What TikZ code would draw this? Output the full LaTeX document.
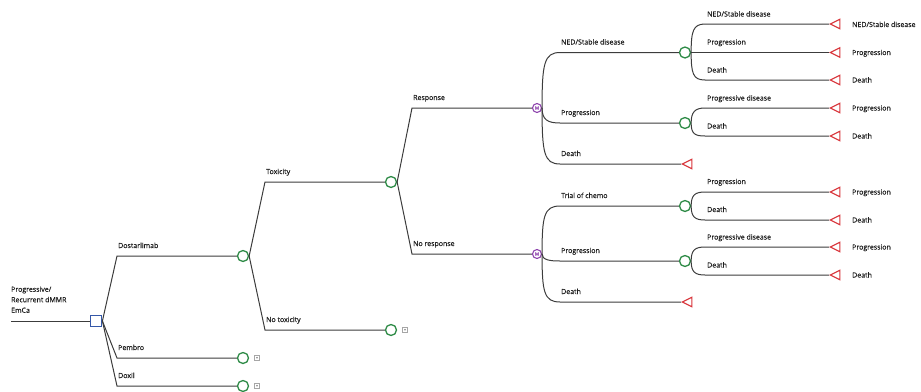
\documentclass[tikz,border=0pt]{standalone}
\usepackage{fontspec}
\setmainfont{Open Sans}[FakeBold=0.45]
\usetikzlibrary{shapes.geometric}
\definecolor{lncol}{HTML}{3C3C3C}
\definecolor{chcol}{HTML}{2E8B47}
\definecolor{trcol}{HTML}{D8343A}
\definecolor{decol}{HTML}{3558A8}
\definecolor{mcol}{HTML}{8E44AD}
\definecolor{txcol}{HTML}{1E1E1E}
\begin{document}
\begin{tikzpicture}[x=1pt,y=-1pt,
 ln/.style={draw=lncol,line width=1pt},
 ch/.style={circle,draw=chcol,line width=1.3pt,minimum size=11pt,inner sep=0pt},
 mn/.style={circle,draw=mcol,line width=1.1pt,minimum size=9pt,inner sep=0pt,font=\fontsize{4.5}{5}\selectfont,text=mcol},
 dec/.style={rectangle,draw=decol,line width=1.3pt,minimum size=11.5pt,inner sep=0pt},
 tri/.style={isosceles triangle,isosceles triangle stretches,shape border rotate=180,draw=trcol,line width=1.1pt,minimum width=9.5pt,minimum height=9.5pt,inner sep=0pt,anchor=apex},
 pbox/.style={rectangle,draw=gray!70,line width=0.5pt,minimum size=5pt,inner sep=0pt,font=\fontsize{4}{4}\selectfont,text=gray},
 lab/.style={inner sep=0pt,anchor=base west,font=\fontsize{7}{8}\selectfont,text=txcol},
]
\useasboundingbox (0,0) rectangle (921,391);

% root
\node[dec] (D) at (96,321) {};
\coordinate (R0) at (11,321);
\draw[ln] (R0) -- (D.west);
\node[lab,anchor=south west,align=left,font=\fontsize{7}{10.5}\selectfont] (RL) at (11,313) {Progressive/\\Recurrent dMMR\\EmCa};

% level 1
\node[ch] (C1) at (243,256) {};
\node[ch] (C2) at (243,358) {};
\node[ch] (C3) at (243,386) {};
\draw[ln] (D.east) -- (117,256) -- (C1.west);
\draw[ln] (D.east) -- (117,358) -- (C2.west);
\draw[ln] (D.east) -- (117,386) -- (C3.west);
\node[lab] (L1) at (118,248) {Dostarlimab};
\node[lab] (L2) at (118,350) {Pembro};
\node[lab] (L3) at (118,378) {Doxil};
\node[pbox] (P2) at (257,358) {+};
\node[pbox] (P3) at (257,386) {+};

% level 2
\node[ch] (T1) at (391,182) {};
\node[ch] (T2) at (391,330) {};
\draw[ln] (C1.east) -- (265,182) -- (T1.west);
\draw[ln] (C1.east) -- (265,330) -- (T2.west);
\node[lab] (L4) at (266,174) {Toxicity};
\node[lab] (L5) at (266,322) {No toxicity};
\node[pbox] (P4) at (405,330) {+};

% level 3
\node[mn] (M1) at (537,108) {M};
\node[mn] (M2) at (537,254) {M};
\draw[ln] (T1.east) -- (412,108) -- (M1.west);
\draw[ln] (T1.east) -- (412,254) -- (M2.west);
\node[lab] (L6) at (413,100) {Response};
\node[lab] (L7) at (413,246) {No response};

% level 4 (response)
\node[ch] (A1) at (685,52.5) {};
\node[ch] (A2) at (685,123) {};
\node[tri] (A3) at (681,164) {};
\draw[ln] (M1.east) .. controls +(0,-44) and +(-16,0) .. (560,52.5) -- (A1.west);
\draw[ln] (M1.east) .. controls +(0,12) and +(-12,0) .. (560,123) -- (A2.west);
\draw[ln] (M1.east) .. controls +(0,45) and +(-16,0) .. (560,164) -- (A3.apex);
\node[lab] (L8) at (561,44.5) {NED/Stable disease};
\node[lab] (L9) at (561,115) {Progression};
\node[lab] (L10) at (561,156) {Death};

% level 4 (no response)
\node[ch] (B1) at (685,206) {};
\node[ch] (B2) at (685,261) {};
\node[tri] (B3) at (681,302) {};
\draw[ln] (M2.east) .. controls +(0,-38) and +(-16,0) .. (560,206) -- (B1.west);
\draw[ln] (M2.east) .. controls +(0,6) and +(-10,0) .. (560,261) -- (B2.west);
\draw[ln] (M2.east) .. controls +(0,38) and +(-16,0) .. (560,302) -- (B3.apex);
\node[lab] (L11) at (561,198) {Trial of chemo};
\node[lab] (L12) at (561,253) {Progression};
\node[lab] (L13) at (561,294) {Death};

% level 5
\node[tri] (E1) at (829,24) {};
\node[tri] (E2) at (829,52.5) {};
\node[tri] (E3) at (829,80) {};
\node[tri] (E4) at (829,108) {};
\node[tri] (E5) at (829,136) {};
\node[tri] (E6) at (829,192) {};
\node[tri] (E7) at (829,220) {};
\node[tri] (E8) at (829,247) {};
\node[tri] (E9) at (829,275) {};

\draw[ln] (A1.east) .. controls +(0,-21) and +(-12,0) .. (705,24) -- (E1.apex);
\draw[ln] (A1.east) -- (E2.apex);
\draw[ln] (A1.east) .. controls +(0,21) and +(-12,0) .. (705,80) -- (E3.apex);
\draw[ln] (A2.east) .. controls +(0,-11) and +(-10,0) .. (705,108) -- (E4.apex);
\draw[ln] (A2.east) .. controls +(0,11) and +(-10,0) .. (705,136) -- (E5.apex);
\draw[ln] (B1.east) .. controls +(0,-11) and +(-10,0) .. (705,192) -- (E6.apex);
\draw[ln] (B1.east) .. controls +(0,11) and +(-10,0) .. (705,220) -- (E7.apex);
\draw[ln] (B2.east) .. controls +(0,-11) and +(-10,0) .. (705,247) -- (E8.apex);
\draw[ln] (B2.east) .. controls +(0,11) and +(-10,0) .. (705,275) -- (E9.apex);

\node[lab] (K1) at (707,16.5) {NED/Stable disease};
\node[lab] (K2) at (707,44.5) {Progression};
\node[lab] (K3) at (707,72.5) {Death};
\node[lab] (K4) at (707,100.5) {Progressive disease};
\node[lab] (K5) at (707,128.5) {Death};
\node[lab] (K6) at (707,184) {Progression};
\node[lab] (K7) at (707,212) {Death};
\node[lab] (K8) at (707,239.5) {Progressive disease};
\node[lab] (K9) at (707,267.5) {Death};

\node[lab] (N1) at (852,27) {NED/Stable disease};
\node[lab] (N2) at (852,55) {Progression};
\node[lab] (N3) at (852,82.5) {Death};
\node[lab] (N4) at (852,110.5) {Progression};
\node[lab] (N5) at (852,138.5) {Death};
\node[lab] (N6) at (852,194.5) {Progression};
\node[lab] (N7) at (852,222.5) {Death};
\node[lab] (N8) at (852,249.5) {Progression};
\node[lab] (N9) at (852,277.5) {Death};
\end{tikzpicture}
\end{document}
